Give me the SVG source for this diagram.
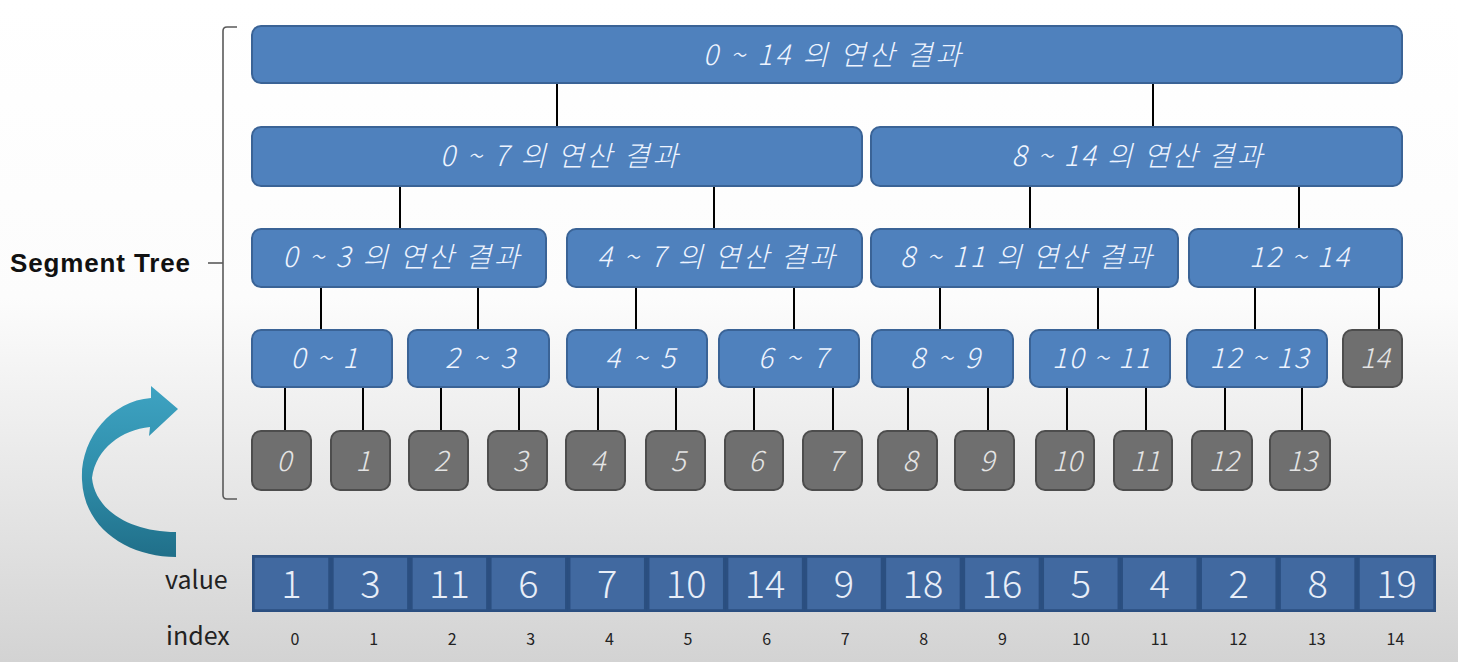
<svg xmlns="http://www.w3.org/2000/svg" width="1458" height="662" viewBox="0 0 1458 662">
<defs>
<linearGradient id="bg" x1="0" y1="0" x2="0" y2="1">
<stop offset="0" stop-color="#ffffff"/>
<stop offset="0.45" stop-color="#fcfcfc"/>
<stop offset="1" stop-color="#d3d3d3"/>
</linearGradient>
<linearGradient id="arrowFill" x1="0" y1="0" x2="0" y2="1">
<stop offset="0" stop-color="#3ea3c2"/>
<stop offset="0.5" stop-color="#2f8eab"/>
<stop offset="1" stop-color="#206f89"/>
</linearGradient>
<style>
.bn{fill:#4f81bd;stroke:#3a6396;stroke-width:2}
.gn{fill:#6f6f6f;stroke:#4d4d4d;stroke-width:2}
.bt{font-family:"Noto Sans CJK KR","Noto Sans",sans-serif;font-style:italic;font-weight:300;font-size:28px;fill:#eef4ff;text-anchor:middle}
.gt{font-family:"Noto Sans CJK KR","Noto Sans",sans-serif;font-style:italic;font-weight:300;font-size:28px;fill:#e4e4e4;text-anchor:middle}
.cn line{stroke:#000;stroke-width:2}
.cell{fill:#4169a0;stroke:#2b4f80;stroke-width:2.5}
.vt{font-family:"Noto Sans CJK KR","Noto Sans",sans-serif;font-weight:300;font-size:38px;fill:#e8eef8;text-anchor:middle}
.it{font-family:"Noto Sans CJK KR","Liberation Sans",sans-serif;font-size:16px;fill:#222;text-anchor:middle}
.lbl{font-family:"Noto Sans CJK KR","Liberation Sans",sans-serif;font-size:25px;fill:#222}
</style>
</defs>
<rect x="0" y="0" width="1458" height="662" fill="url(#bg)"/>

<!-- bracket -->
<g id="bracket" fill="none" stroke="#5a5a5a" stroke-width="1.6">
<path d="M237 27 L227 27 Q223 27 223 31 L223 495 Q223 499 227 499 L237 499"/>
<line x1="208" y1="263" x2="223" y2="263"/>
</g>
<g id="label-segment-tree">
<text x="10" y="272" font-family="Liberation Sans, Noto Sans, sans-serif" font-weight="bold" font-size="26" fill="#111" textLength="180">Segment Tree</text>
</g>

<!-- curved arrow -->
<g id="curved-arrow">
<path d="M176 557 C130 557 84 530 82 480 C80 440 110 401 151 398 L151 386 L178 409 L149 436 L150 427 C122 430 96 448 92 478 C95 510 130 532 176 532 Z" fill="url(#arrowFill)"/>
</g>

<!-- connectors -->
<g id="connectors" class="cn">
<line x1="557" y1="83" x2="557" y2="127"/>
<line x1="1153" y1="83" x2="1153" y2="127"/>
<line x1="400" y1="186" x2="400" y2="229"/>
<line x1="714" y1="186" x2="714" y2="229"/>
<line x1="1030" y1="186" x2="1030" y2="229"/>
<line x1="1299" y1="186" x2="1299" y2="229"/>
<line x1="321" y1="287" x2="321" y2="330"/>
<line x1="478" y1="287" x2="478" y2="330"/>
<line x1="636" y1="287" x2="636" y2="330"/>
<line x1="794" y1="287" x2="794" y2="330"/>
<line x1="940" y1="287" x2="940" y2="330"/>
<line x1="1098" y1="287" x2="1098" y2="330"/>
<line x1="1255" y1="287" x2="1255" y2="330"/>
<line x1="1379" y1="287" x2="1379" y2="330"/>
<line x1="285" y1="387" x2="285" y2="431"/>
<line x1="363" y1="387" x2="363" y2="431"/>
<line x1="441" y1="387" x2="441" y2="431"/>
<line x1="519" y1="387" x2="519" y2="431"/>
<line x1="598" y1="387" x2="598" y2="431"/>
<line x1="676" y1="387" x2="676" y2="431"/>
<line x1="754" y1="387" x2="754" y2="431"/>
<line x1="833" y1="387" x2="833" y2="431"/>
<line x1="908" y1="387" x2="908" y2="431"/>
<line x1="988" y1="387" x2="988" y2="431"/>
<line x1="1067" y1="387" x2="1067" y2="431"/>
<line x1="1146" y1="387" x2="1146" y2="431"/>
<line x1="1225" y1="387" x2="1225" y2="431"/>
<line x1="1302" y1="387" x2="1302" y2="431"/>
</g>

<!-- level 1 -->
<g id="n-0-14"><rect class="bn" x="252" y="26" width="1150" height="57" rx="9"/><text class="bt" x="832" y="65" textLength="258">0 ~ 14 의 연산 결과</text></g>
<!-- level 2 -->
<g id="n-0-7"><rect class="bn" x="252" y="127" width="610" height="59" rx="9"/><text class="bt" x="559" y="166" textLength="238">0 ~ 7 의 연산 결과</text></g>
<g id="n-8-14"><rect class="bn" x="871" y="127" width="531" height="59" rx="9"/><text class="bt" x="1137" y="166" textLength="251">8 ~ 14 의 연산 결과</text></g>
<!-- level 3 -->
<g id="n-0-3"><rect class="bn" x="252" y="229" width="294" height="58" rx="9"/><text class="bt" x="401" y="267" textLength="237">0 ~ 3 의 연산 결과</text></g>
<g id="n-4-7"><rect class="bn" x="567" y="229" width="295" height="58" rx="9"/><text class="bt" x="716" y="267" textLength="238">4 ~ 7 의 연산 결과</text></g>
<g id="n-8-11"><rect class="bn" x="871" y="229" width="307" height="58" rx="9"/><text class="bt" x="1026" y="267" textLength="252">8 ~ 11 의 연산 결과</text></g>
<g id="n-12-14"><rect class="bn" x="1189" y="229" width="213" height="58" rx="9"/><text class="bt" x="1299" y="267" textLength="100">12 ~ 14</text></g>
<!-- level 4 -->
<g id="n-0-1"><rect class="bn" x="252" y="330" width="140" height="57" rx="9"/><text class="bt" x="324" y="368" textLength="67">0 ~ 1</text></g>
<g id="n-2-3"><rect class="bn" x="408" y="330" width="141" height="57" rx="9"/><text class="bt" x="480" y="368" textLength="70">2 ~ 3</text></g>
<g id="n-4-5"><rect class="bn" x="567" y="330" width="140" height="57" rx="9"/><text class="bt" x="640" y="368" textLength="70">4 ~ 5</text></g>
<g id="n-6-7"><rect class="bn" x="719" y="330" width="140" height="57" rx="9"/><text class="bt" x="793" y="368" textLength="70">6 ~ 7</text></g>
<g id="n-8-9"><rect class="bn" x="872" y="330" width="141" height="57" rx="9"/><text class="bt" x="945" y="368" textLength="70">8 ~ 9</text></g>
<g id="n-10-11"><rect class="bn" x="1030" y="330" width="140" height="57" rx="9"/><text class="bt" x="1101" y="368" textLength="98">10 ~ 11</text></g>
<g id="n-12-13"><rect class="bn" x="1187" y="330" width="140" height="57" rx="9"/><text class="bt" x="1259" y="368" textLength="99">12 ~ 13</text></g>
<g id="n-14"><rect class="gn" x="1343" y="330" width="59" height="57" rx="9"/><text class="gt" x="1375" y="368">14</text></g>
<!-- leaves -->
<g id="leaf-0"><rect class="gn" x="252" y="431" width="59" height="59" rx="9"/><text class="gt" x="284" y="471">0</text></g>
<g id="leaf-1"><rect class="gn" x="331" y="431" width="59" height="59" rx="9"/><text class="gt" x="363" y="471">1</text></g>
<g id="leaf-2"><rect class="gn" x="409" y="431" width="59" height="59" rx="9"/><text class="gt" x="441" y="471">2</text></g>
<g id="leaf-3"><rect class="gn" x="488" y="431" width="59" height="59" rx="9"/><text class="gt" x="520" y="471">3</text></g>
<g id="leaf-4"><rect class="gn" x="566" y="431" width="59" height="59" rx="9"/><text class="gt" x="598" y="471">4</text></g>
<g id="leaf-5"><rect class="gn" x="646" y="431" width="59" height="59" rx="9"/><text class="gt" x="678" y="471">5</text></g>
<g id="leaf-6"><rect class="gn" x="725" y="431" width="58" height="59" rx="9"/><text class="gt" x="756" y="471">6</text></g>
<g id="leaf-7"><rect class="gn" x="803" y="431" width="59" height="59" rx="9"/><text class="gt" x="835" y="471">7</text></g>
<g id="leaf-8"><rect class="gn" x="878" y="431" width="59" height="59" rx="9"/><text class="gt" x="910" y="471">8</text></g>
<g id="leaf-9"><rect class="gn" x="955" y="431" width="59" height="59" rx="9"/><text class="gt" x="987" y="471">9</text></g>
<g id="leaf-10"><rect class="gn" x="1036" y="431" width="58" height="59" rx="9"/><text class="gt" x="1067" y="471">10</text></g>
<g id="leaf-11"><rect class="gn" x="1114" y="431" width="58" height="59" rx="9"/><text class="gt" x="1145" y="471">11</text></g>
<g id="leaf-12"><rect class="gn" x="1192" y="431" width="60" height="59" rx="9"/><text class="gt" x="1224" y="471">12</text></g>
<g id="leaf-13"><rect class="gn" x="1270" y="431" width="60" height="59" rx="9"/><text class="gt" x="1302" y="471">13</text></g>

<!-- array -->
<g id="value-array">
<rect x="252" y="555" width="1184" height="57" fill="#2b4f80"/>
<rect class="cell" x="253.5" y="556.5" width="76" height="54"/>
<rect class="cell" x="332.4" y="556.5" width="76" height="54"/>
<rect class="cell" x="411.4" y="556.5" width="76" height="54"/>
<rect class="cell" x="490.3" y="556.5" width="76" height="54"/>
<rect class="cell" x="569.2" y="556.5" width="76" height="54"/>
<rect class="cell" x="648.2" y="556.5" width="76" height="54"/>
<rect class="cell" x="727.1" y="556.5" width="76" height="54"/>
<rect class="cell" x="806" y="556.5" width="76" height="54"/>
<rect class="cell" x="884.9" y="556.5" width="76" height="54"/>
<rect class="cell" x="963.9" y="556.5" width="76" height="54"/>
<rect class="cell" x="1042.8" y="556.5" width="76" height="54"/>
<rect class="cell" x="1121.7" y="556.5" width="76" height="54"/>
<rect class="cell" x="1200.7" y="556.5" width="76" height="54"/>
<rect class="cell" x="1279.6" y="556.5" width="76" height="54"/>
<rect class="cell" x="1358.5" y="556.5" width="76" height="54"/>
<text class="vt" x="291.5" y="598">1</text>
<text class="vt" x="370.4" y="598">3</text>
<text class="vt" x="449.4" y="598">11</text>
<text class="vt" x="528.3" y="598">6</text>
<text class="vt" x="607.2" y="598">7</text>
<text class="vt" x="686.2" y="598">10</text>
<text class="vt" x="765.1" y="598">14</text>
<text class="vt" x="844" y="598">9</text>
<text class="vt" x="922.9" y="598">18</text>
<text class="vt" x="1001.9" y="598">16</text>
<text class="vt" x="1080.8" y="598">5</text>
<text class="vt" x="1159.7" y="598">4</text>
<text class="vt" x="1238.7" y="598">2</text>
<text class="vt" x="1317.6" y="598">8</text>
<text class="vt" x="1396.5" y="598">19</text>
</g>
<g id="index-row">
<text class="it" x="295" y="645">0</text>
<text class="it" x="373.6" y="645">1</text>
<text class="it" x="452.2" y="645">2</text>
<text class="it" x="530.8" y="645">3</text>
<text class="it" x="609.4" y="645">4</text>
<text class="it" x="688" y="645">5</text>
<text class="it" x="766.6" y="645">6</text>
<text class="it" x="845.2" y="645">7</text>
<text class="it" x="923.8" y="645">8</text>
<text class="it" x="1002.4" y="645">9</text>
<text class="it" x="1081" y="645">10</text>
<text class="it" x="1159.6" y="645">11</text>
<text class="it" x="1238.2" y="645">12</text>
<text class="it" x="1316.8" y="645">13</text>
<text class="it" x="1395.4" y="645">14</text>
</g>
<g id="row-labels">
<text class="lbl" x="165" y="589">value</text>
<text class="lbl" x="166" y="645">index</text>
</g>
</svg>
